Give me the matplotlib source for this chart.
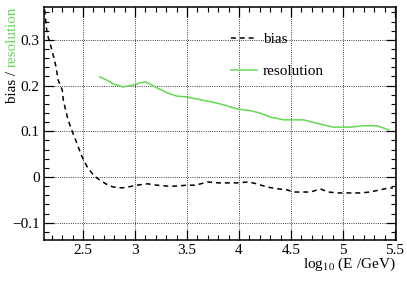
import matplotlib
matplotlib.use("Agg")
import matplotlib.pyplot as plt
from matplotlib.ticker import MultipleLocator

# bias curve
bias_x = [2.13, 2.153, 2.20, 2.24, 2.26, 2.30, 2.31, 2.355, 2.39, 2.44, 2.49, 2.54,
          2.60, 2.66, 2.74, 2.79, 2.875, 2.93, 3.02, 3.12, 3.21, 3.31, 3.40, 3.50,
          3.58, 3.70, 3.80, 3.90, 3.98, 4.09, 4.17, 4.27, 4.37, 4.46, 4.52, 4.57,
          4.69, 4.78, 4.86, 4.95, 5.07, 5.17, 5.26, 5.36, 5.44, 5.48]
bias_y = [0.366, 0.315, 0.278, 0.241, 0.212, 0.19, 0.168, 0.125, 0.103, 0.074, 0.044, 0.022,
          0.004, -0.007, -0.018, -0.022, -0.024, -0.022, -0.018, -0.015, -0.018, -0.020, -0.020, -0.018,
          -0.018, -0.011, -0.013, -0.013, -0.013, -0.011, -0.015, -0.022, -0.026, -0.028, -0.033, -0.033,
          -0.033, -0.026, -0.033, -0.035, -0.035, -0.035, -0.033, -0.028, -0.024, -0.024]

# resolution curve
res_x = [2.66, 2.73, 2.79, 2.88, 2.98, 3.05, 3.10, 3.14, 3.21, 3.31, 3.40, 3.50, 3.63,
         3.74, 3.85, 3.98, 4.11, 4.20, 4.30, 4.43, 4.62, 4.81, 4.91, 5.07, 5.20, 5.33,
         5.39, 5.44]
res_y = [0.219, 0.212, 0.204, 0.197, 0.201, 0.206, 0.208, 0.204, 0.195, 0.184, 0.177, 0.175, 0.169,
         0.164, 0.158, 0.149, 0.145, 0.140, 0.131, 0.125, 0.125, 0.114, 0.109, 0.109, 0.112, 0.112,
         0.107, 0.103]

green = "#62da52"
serif = ["Liberation Serif", "DejaVu Serif"]
plt.rcParams["font.family"] = serif
plt.rcParams["mathtext.fontset"] = "stix"

W, H = 407, 281
fig = plt.figure(figsize=(W / 100, H / 100), dpi=100)
ax = fig.add_axes([44 / W, 1 - 240 / H, (396 - 44) / W, (240 - 7) / H])

ax.plot(bias_x, bias_y, color="black", lw=1.1, linestyle=(0, (3.2, 2.6)), label="bias")
ax.plot(res_x, res_y, color=green, lw=1.1, label="resolution")

ax.set_xlim(2.124, 5.51)
ax.set_ylim(-0.138, 0.372)

ax.xaxis.set_minor_locator(MultipleLocator(0.1))
ax.yaxis.set_minor_locator(MultipleLocator(0.02))
ax.set_xticks([2.5, 3, 3.5, 4, 4.5, 5, 5.5])
ax.set_xticklabels(["2.5", "3", "3.5", "4", "4.5", "5", "5.5"])
ax.set_yticks([-0.1, 0, 0.1, 0.2, 0.3])
ax.set_yticklabels(["\u22120.1", "0", "0.1", "0.2", "0.3"])

ax.tick_params(which="both", direction="in", top=True, right=True, labelsize=11, pad=3)
ax.tick_params(which="major", length=7, width=0.9)
ax.tick_params(which="minor", length=3.5, width=0.8)
ax.grid(True, which="major", color="black", linestyle=":", lw=0.6)
for s in ax.spines.values():
    s.set_linewidth(1.1)

ax.legend(loc="upper left", bbox_to_anchor=(0.53, 0.89), frameon=False, fontsize=11,
          handlelength=1.7, handletextpad=0.4, labelspacing=1.2, borderpad=0,
          borderaxespad=0)

fig.text(396 / W, 1 - 268 / H, r"log$_{10}$ (E /GeV)", ha="right", va="baseline", fontsize=11)

# y label: two colours stacked
t1 = fig.text(12 / W, 1 - 103 / H, "bias / ", rotation=90, ha="center", va="bottom",
              fontsize=10.8)
fig.canvas.draw()
bb = t1.get_window_extent(renderer=fig.canvas.get_renderer())
fig.text(12 / W, bb.y1 / H, "resolution", rotation=90, ha="center", va="bottom",
         fontsize=10.8, color=green)

fig.savefig("out.png", dpi=100)
